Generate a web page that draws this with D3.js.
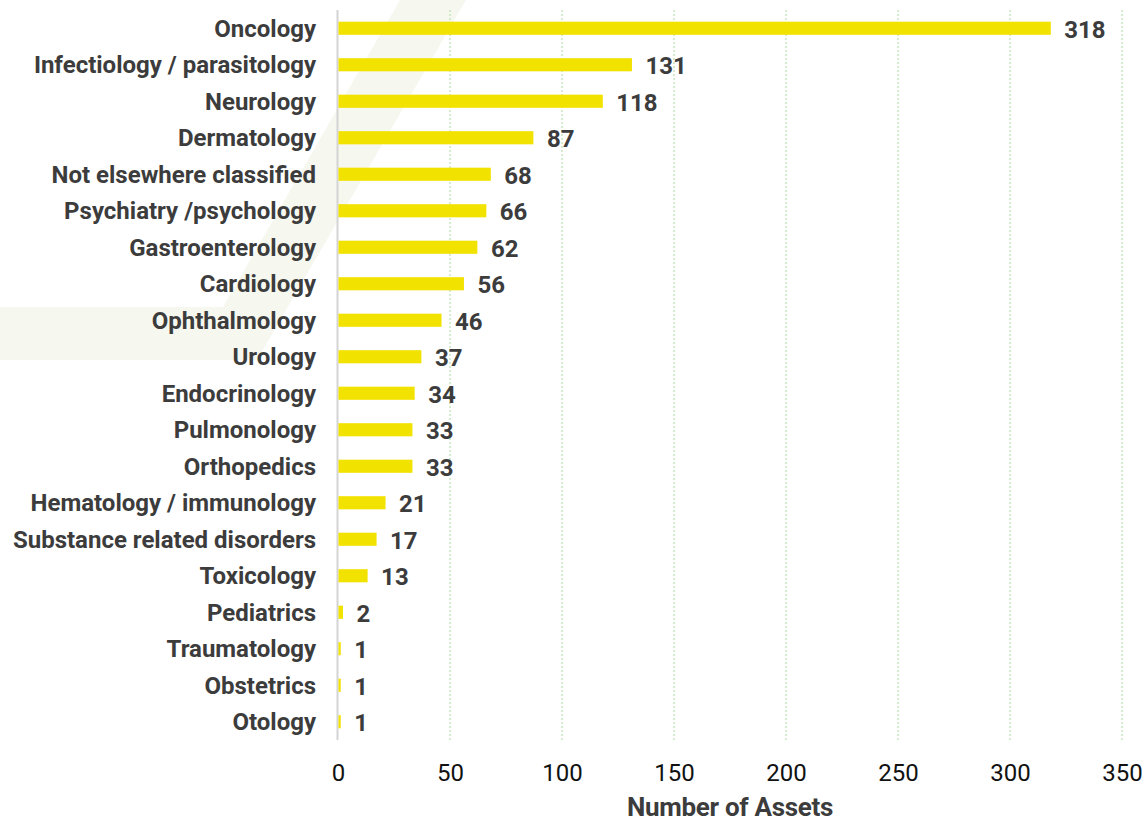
<!DOCTYPE html>
<html>
<head>
<meta charset="utf-8">
<script src="https://cdn.jsdelivr.net/npm/d3@7"></script>
<style>
  html, body { margin: 0; padding: 0; background: #fff; }
  svg { display: block; font-family: Roboto, "Noto Sans", sans-serif; }
</style>
</head>
<body>
<svg id="chart" width="1145" height="824"></svg>
<script>
const categories = [
  "Oncology", "Infectiology / parasitology", "Neurology", "Dermatology",
  "Not elsewhere classified", "Psychiatry /psychology", "Gastroenterology",
  "Cardiology", "Ophthalmology", "Urology", "Endocrinology", "Pulmonology",
  "Orthopedics", "Hematology / immunology", "Substance related disorders",
  "Toxicology", "Pediatrics", "Traumatology", "Obstetrics", "Otology"
];
const values = [318, 131, 118, 87, 68, 66, 62, 56, 46, 37, 34, 33, 33, 21, 17, 13, 2, 1, 1, 1];
const xTicks = [0, 50, 100, 150, 200, 250, 300, 350];
const xTitle = "Number of Assets";

const svg = d3.select("#chart");
const W = 1145, H = 824;
const margin = { left: 338, right: 23, top: 10, bottom: 84 };

// faint background watermark
svg.append("path")
  .attr("d", "M400,0 L466,0 L257,360 L0,360 L0,307 L223,307 Z")
  .attr("fill", "#f6f7ef");

const x = d3.scaleLinear().domain([0, 350]).range([margin.left, W - margin.right]);
const y = d3.scaleBand().domain(categories).range([margin.top, H - margin.bottom]).paddingInner(0.64).paddingOuter(0.32);

// gridlines
svg.append("g").selectAll("line")
  .data(xTicks.filter(t => t > 0))
  .join("line")
  .attr("x1", d => x(d)).attr("x2", d => x(d))
  .attr("y1", margin.top).attr("y2", H - margin.bottom)
  .attr("stroke", "#b9dfae").attr("stroke-width", 1.2)
  .attr("stroke-dasharray", "2,2");

// y axis line
svg.append("line")
  .attr("x1", x(0) - 0.5).attr("x2", x(0) - 0.5)
  .attr("y1", margin.top).attr("y2", H - margin.bottom)
  .attr("stroke", "#d4d4d4").attr("stroke-width", 2);

// bars
svg.append("g").selectAll("rect")
  .data(categories)
  .join("rect")
  .attr("x", x(0) + 0.5)
  .attr("y", d => y(d))
  .attr("width", (d, i) => Math.max(0, x(values[i]) - x(0)))
  .attr("height", y.bandwidth())
  .attr("fill", "#f2e200");

// category labels
svg.append("g").selectAll("text")
  .data(categories)
  .join("text")
  .attr("x", x(0) - 22)
  .attr("y", d => y(d) + y.bandwidth() / 2)
  .attr("dy", "0.35em")
  .attr("text-anchor", "end")
  .attr("font-size", 24)
  .attr("font-weight", "bold")
  .attr("fill", "#3c3c3c")
  .text(d => d);

// value labels
svg.append("g").selectAll("text")
  .data(categories)
  .join("text")
  .attr("x", (d, i) => x(values[i]) + 14)
  .attr("y", d => y(d) + y.bandwidth() / 2 + 1)
  .attr("dy", "0.35em")
  .attr("font-size", 24)
  .attr("font-weight", "bold")
  .attr("fill", "#3c3c3c")
  .text((d, i) => values[i]);

// x axis tick labels
const xAxis = d3.axisBottom(x).tickValues(xTicks).tickSize(0).tickPadding(0);
const gx = svg.append("g").attr("transform", `translate(0,${H - margin.bottom + 24})`).call(xAxis);
gx.select(".domain").remove();
gx.selectAll("text")
  .attr("font-size", 24)
  .attr("font-family", "Roboto, sans-serif")
  .attr("fill", "#111");

// axis title
svg.append("text")
  .attr("x", (x(0) + x(350)) / 2)
  .attr("y", 816)
  .attr("text-anchor", "middle")
  .attr("font-size", 26)
  .attr("font-weight", "bold")
  .attr("fill", "#3c3c3c")
  .attr("letter-spacing", "-0.3")
  .text(xTitle);
</script>
</body>
</html>
